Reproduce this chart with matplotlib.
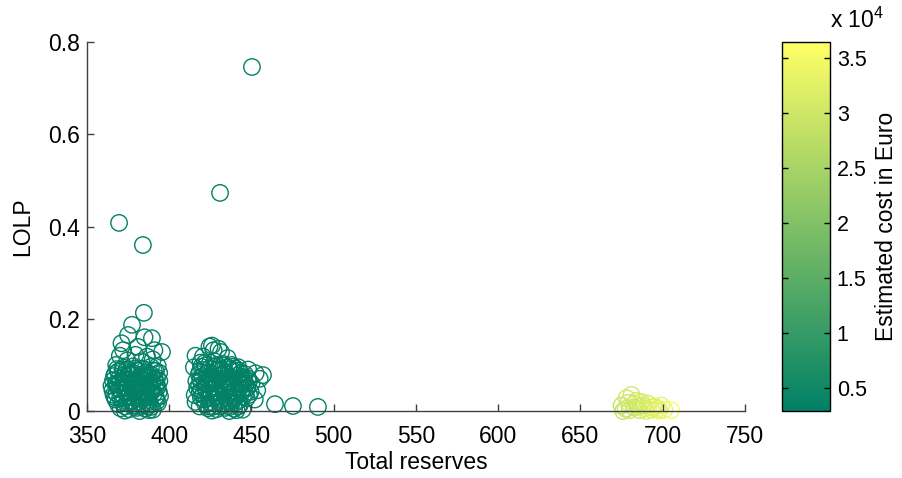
import matplotlib.pyplot as plt
from matplotlib.ticker import FuncFormatter

plt.rcParams["font.family"] = ["Liberation Sans", "DejaVu Sans"]
plt.rcParams["mathtext.default"] = "regular"

FS = 16.5

# group around 380 MW of reserves
res_a = [369.5, 384.0, 384.6, 377.4, 375.0, 385.0, 389.5, 371.0, 372.0, 381.0,
         370.0, 391.0, 395.6, 379.5, 386.5, 374.5, 383.0, 390.0, 367.8, 393.0,
         372.3, 378.1, 383.6, 388.9,
         369.0, 375.4, 380.7, 386.2, 391.8,
         366.5, 371.9, 377.6, 382.4, 387.3, 392.6,
         365.8, 370.4, 375.1, 379.8, 384.9, 389.6, 394.0,
         364.9, 368.7, 373.6, 378.3, 383.2, 388.1, 392.9,
         365.5, 370.1, 374.8, 379.4, 384.6, 389.0, 393.7,
         366.2, 371.3, 376.0, 381.1, 386.0, 390.7, 394.4,
         367.4, 372.6, 377.3, 382.7, 387.5, 392.0,
         368.9, 374.0, 378.9, 383.8, 388.6, 393.2,
         370.5, 375.7, 380.3, 385.4, 390.1,
         373.0, 382.0, 387.8,
         368.0, 373.2, 380.9, 385.7, 391.2, 376.4, 381.8, 387.0, 371.6, 378.7,
         366.9, 384.1, 389.8, 374.9, 379.1,
         368.3, 373.9, 379.2, 385.1, 390.6,
         367.1, 372.8, 378.4, 383.9, 389.3, 393.9,
         369.6, 374.2, 380.1, 385.8, 391.1,
         367.7, 372.5, 377.9, 382.8, 387.9, 392.3,
         369.2, 374.6, 380.5, 386.3, 391.5,
         367.9, 373.4, 378.6, 384.3, 389.2,
         370.2, 375.5, 381.6, 386.8, 391.7,
         371.4, 376.8, 382.0, 387.2, 392.4,
         373.1, 378.5, 383.4, 388.9]
lolp_a = [0.408, 0.360, 0.213, 0.187, 0.165, 0.160, 0.158, 0.147, 0.132, 0.139,
          0.120, 0.132, 0.128, 0.122, 0.118, 0.110, 0.108, 0.112, 0.100, 0.098,
          0.094, 0.097, 0.092, 0.096,
          0.086, 0.083, 0.088, 0.084, 0.087,
          0.076, 0.073, 0.078, 0.074, 0.077, 0.072,
          0.066, 0.063, 0.067, 0.064, 0.068, 0.062, 0.065,
          0.055, 0.057, 0.053, 0.056, 0.054, 0.058, 0.052,
          0.045, 0.047, 0.043, 0.046, 0.044, 0.048, 0.042,
          0.035, 0.037, 0.033, 0.036, 0.034, 0.038, 0.032,
          0.025, 0.027, 0.023, 0.026, 0.024, 0.028,
          0.015, 0.017, 0.013, 0.016, 0.014, 0.018,
          0.006, 0.004, 0.007, 0.005, 0.003,
          0.001, 0.000, 0.002,
          0.060, 0.050, 0.040, 0.030, 0.070, 0.080, 0.020, 0.010, 0.090, 0.060,
          0.030, 0.075, 0.045, 0.020, 0.050,
          0.091, 0.089, 0.092, 0.090, 0.088,
          0.081, 0.079, 0.082, 0.080, 0.078, 0.083,
          0.071, 0.069, 0.070, 0.072, 0.068,
          0.059, 0.061, 0.058, 0.060, 0.062, 0.059,
          0.049, 0.051, 0.048, 0.050, 0.049,
          0.039, 0.041, 0.040, 0.039, 0.041,
          0.029, 0.031, 0.030, 0.029, 0.031,
          0.019, 0.021, 0.020, 0.019, 0.021,
          0.010, 0.009, 0.011, 0.009]

# group around 430 MW
res_b = [450.3, 430.9,
         420.5, 424.5, 427.0, 431.5, 416.0, 419.0, 435.5, 426.0, 430.0,
         448.0, 452.5, 457.0, 455.0, 446.0, 450.0, 453.5, 448.5, 452.0, 444.0,
         442.0, 438.0,
         416.0, 418.5, 415.5, 417.0, 416.5, 418.0, 415.0,
         421.5, 427.5, 433.0,
         419.5, 424.8, 430.2, 435.9, 440.4,
         418.7, 423.2, 428.6, 433.8, 439.1, 443.5,
         420.1, 425.3, 430.7, 436.0, 441.2, 445.6,
         419.0, 423.9, 429.0, 434.2, 439.5, 444.3, 448.5,
         418.2, 422.6, 427.8, 433.1, 438.3, 443.1, 447.6,
         419.6, 424.4, 429.7, 435.0, 440.1, 445.0, 449.5,
         420.4, 425.7, 431.0, 436.3, 441.5, 446.3,
         421.3, 426.6, 431.8, 437.2, 442.3, 447.1,
         422.0, 427.3, 432.5, 437.8, 443.0,
         423.5, 428.8, 434.1, 439.4, 444.6,
         426.0, 436.5, 441.0,
         422.8, 428.1, 433.6, 438.7, 426.9, 432.2, 437.5, 424.0, 429.4, 434.8,
         422.0, 427.6, 433.3, 438.9,
         421.1, 426.4, 431.9, 437.0, 442.2,
         418.9, 423.7, 428.0, 433.5, 438.4, 443.8, 447.9,
         421.5, 426.2, 431.4, 436.6, 441.9, 446.4,
         421.8, 426.9, 432.3, 437.7, 442.6, 447.4,
         418.6, 423.0, 428.3, 433.6, 438.8, 443.9,
         419.3, 424.1, 429.2, 434.4, 439.7, 444.8,
         425.0, 430.3, 435.6, 440.8,
         426.4, 431.2, 436.9, 442.1,
         464.3, 475.2, 490.4]
lolp_b = [0.746, 0.473,
          0.118, 0.140, 0.132, 0.128, 0.120, 0.105, 0.115, 0.142, 0.135,
          0.090, 0.082, 0.078, 0.070, 0.080, 0.060, 0.045, 0.035, 0.025, 0.075,
          0.095, 0.100,
          0.020, 0.010, 0.035, 0.050, 0.065, 0.080, 0.095,
          0.104, 0.108, 0.102,
          0.096, 0.093, 0.097, 0.094, 0.092,
          0.086, 0.083, 0.088, 0.084, 0.087, 0.082,
          0.076, 0.073, 0.078, 0.074, 0.077, 0.072,
          0.066, 0.063, 0.067, 0.064, 0.068, 0.062, 0.065,
          0.055, 0.057, 0.053, 0.056, 0.054, 0.058, 0.052,
          0.045, 0.047, 0.043, 0.046, 0.044, 0.048, 0.042,
          0.035, 0.037, 0.033, 0.036, 0.034, 0.038,
          0.025, 0.027, 0.023, 0.026, 0.024, 0.028,
          0.015, 0.017, 0.013, 0.016, 0.014,
          0.006, 0.004, 0.007, 0.005, 0.003,
          0.001, 0.000, 0.002,
          0.060, 0.050, 0.040, 0.030, 0.070, 0.080, 0.020, 0.010, 0.090, 0.060,
          0.099, 0.097, 0.099, 0.096,
          0.089, 0.091, 0.089, 0.090, 0.088,
          0.071, 0.069, 0.071, 0.070, 0.072, 0.069, 0.071,
          0.060, 0.061, 0.059, 0.060, 0.061, 0.059,
          0.050, 0.049, 0.051, 0.050, 0.049, 0.050,
          0.040, 0.041, 0.039, 0.040, 0.041, 0.039,
          0.029, 0.030, 0.031, 0.029, 0.030, 0.031,
          0.019, 0.020, 0.021, 0.019,
          0.009, 0.010, 0.009, 0.010,
          0.015, 0.011, 0.009]

# group around 690 MW
res_c = [675.0, 677.5, 679.0, 681.0, 682.5, 684.0, 686.0, 688.0, 689.5, 691.0,
         693.0, 695.0, 697.0, 699.0, 701.0, 705.0, 676.0, 680.0, 685.0, 690.0,
         694.0, 698.0, 678.0, 683.0, 687.0]
lolp_c = [0.012, 0.005, 0.018, 0.035, 0.008, 0.022, 0.002, 0.012, 0.006, 0.016,
          0.003, 0.010, 0.005, 0.012, 0.003, 0.002, 0.000, 0.002, 0.010, 0.000,
          0.008, 0.001, 0.028, 0.015, 0.020]
cost_c = [28800, 29500, 30100, 30800, 29300, 30500, 29900, 31100, 31700, 31300,
          32200, 32600, 33100, 33500, 33900, 35500, 29100, 29700, 30300, 31900,
          32300, 33300, 30200, 30700, 31000]

# the two low-reserve groups sit at the cheap end of the scale
COST_A = 3200
COST_B = 3300

reserves = res_a + res_b + res_c
lolp = lolp_a + lolp_b + lolp_c
cost = [COST_A] * len(res_a) + [COST_B] * len(res_b) + cost_c

fig = plt.figure(figsize=(9.03, 4.78), dpi=100)
ax = fig.add_axes([0.0963, 0.140, 0.7287, 0.772])
cax = fig.add_axes([0.866, 0.140, 0.053, 0.772])

sc = ax.scatter(reserves, lolp, c=cost, cmap="summer", vmin=2900, vmax=36450,
                s=140, linewidths=1.0, clip_on=False)
# hollow markers coloured by cost
sc.set_facecolor("none")
sc.set_edgecolors(sc.to_rgba(sc.get_array()))

ax.set_xlim(350, 750)
ax.set_ylim(0, 0.8)
ax.set_xticks(range(350, 751, 50))
ax.set_yticks([0, 0.2, 0.4, 0.6, 0.8])
ax.yaxis.set_major_formatter(FuncFormatter(lambda v, p: "%g" % v))
for side in ["top", "right"]:
    ax.spines[side].set_visible(False)
for side in ["left", "bottom"]:
    ax.spines[side].set_color("#404040")
    ax.spines[side].set_linewidth(1.0)
ax.tick_params(direction="in", length=5, width=1.0, color="#404040",
               labelsize=FS)
ax.tick_params(axis="x", pad=10)
ax.tick_params(axis="y", pad=5)
ax.set_xlabel("Total reserves", fontsize=FS, labelpad=2)
ax.set_ylabel("LOLP", fontsize=FS, labelpad=10)

cb = fig.colorbar(sc, cax=cax)
cb.set_ticks([5000, 10000, 15000, 20000, 25000, 30000, 35000])
cb.ax.yaxis.set_major_formatter(FuncFormatter(lambda v, p: "%g" % (v / 1e4)))
cb.outline.set_linewidth(1.0)
cb.ax.tick_params(direction="in", length=4, width=1.0, left=True, right=True,
                  labelsize=FS - 1, pad=5)
cb.set_label("Estimated cost in Euro", fontsize=FS, labelpad=6)
cax.text(1.0, 1.025, "x 10$^{4}$", transform=cax.transAxes, fontsize=FS,
         ha="left", va="bottom")

fig.savefig("out.png", dpi=100)
